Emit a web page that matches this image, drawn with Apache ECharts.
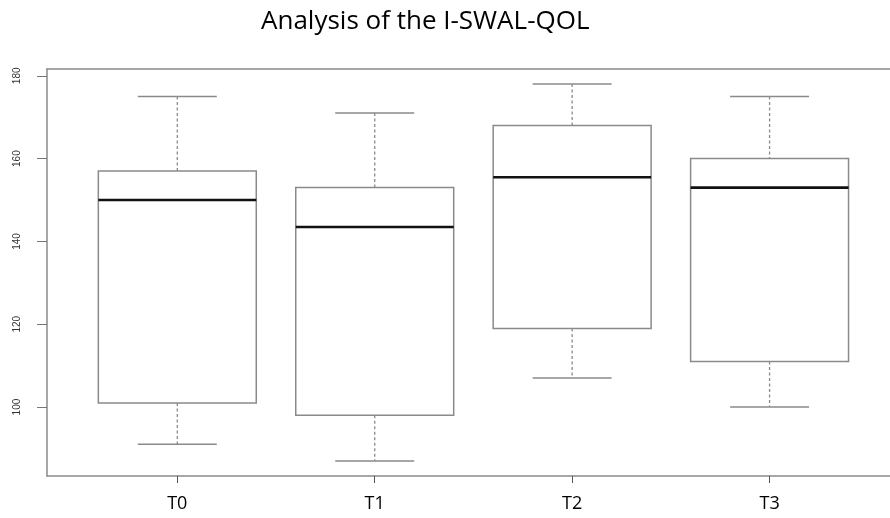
<!DOCTYPE html>
<html>
<head>
<meta charset="utf-8">
<script src="https://cdn.jsdelivr.net/npm/echarts@6/dist/echarts.min.js"></script>
<style>
  html, body { margin: 0; padding: 0; background: #ffffff; }
  #chart { width: 890px; height: 518px; }
</style>
</head>
<body>
<div id="chart"></div>
<script>
// Five-number summaries of the I-SWAL-QOL score at each time point
const categories   = ['T0', 'T1', 'T2', 'T3'];
const whiskerLow   = [91, 87, 107, 100];
const quartile1    = [101, 98, 119, 111];
const medians      = [150, 143.5, 155.5, 153];
const quartile3    = [157, 153, 168, 160];
const whiskerHigh  = [175, 171, 178, 175];
const yTicks       = [100, 120, 140, 160, 180];

// Group positions on the x scale are 1..n, as in a classic boxplot
const positions = categories.map((_, i) => i + 1);
const boxData = positions.map((p, i) =>
  [p, whiskerLow[i], quartile1[i], medians[i], quartile3[i], whiskerHigh[i]]);

// Axis ranges padded by 4% around the data, like base graphics;
// the right-hand side of the plot region is cut off by the page edge
const xLo = 0.5, xHi = categories.length + 0.5;
const xPad = (xHi - xLo) * 0.04;
const xVisibleMax = 4.61;
const yMinData = Math.min(...whiskerLow), yMaxData = Math.max(...whiskerHigh);
const yPad = (yMaxData - yMinData) * 0.04;

const BOX_WEX = 0.8;
const FRAME = '#8a8a8a';

const chart = echarts.init(document.getElementById('chart'), null, { renderer: 'canvas' });

chart.setOption({
  animation: false,
  backgroundColor: '#ffffff',
  title: {
    text: 'Analysis of the I-SWAL-QOL',
    left: 256,
    top: 4,
    textStyle: { fontFamily: 'Open Sans', fontSize: 26, fontWeight: 'normal', color: '#000000' }
  },
  grid: { left: 47, right: 0, top: 69, bottom: 42 },
  xAxis: [{
    type: 'value',
    min: xLo - xPad,
    max: xVisibleMax,
    splitLine: { show: false },
    axisLine: { show: true, lineStyle: { color: FRAME, width: 1.5 } },
    axisTick: { show: true, length: 7, customValues: positions, lineStyle: { color: '#555555' } },
    axisLabel: {
      customValues: positions,
      margin: 19,
      fontFamily: 'Open Sans',
      fontSize: 18,
      color: '#000000',
      formatter: v => categories[Math.round(v) - 1] || ''
    }
  }, {
    // top edge of the plot frame
    type: 'value',
    position: 'top',
    min: xLo - xPad,
    max: xVisibleMax,
    splitLine: { show: false },
    axisLine: { show: true, lineStyle: { color: FRAME, width: 1.5 } },
    axisTick: { show: false },
    axisLabel: { show: false }
  }],
  yAxis: {
    type: 'value',
    min: yMinData - yPad,
    max: yMaxData + yPad,
    splitLine: { show: false },
    axisLine: { show: true, lineStyle: { color: FRAME, width: 1.5 } },
    axisTick: { show: true, length: 10, customValues: yTicks, lineStyle: { color: '#777777' } },
    axisLabel: {
      customValues: yTicks,
      rotate: 90,
      margin: 25,
      fontFamily: 'Liberation Sans',
      fontSize: 10,
      color: '#333333'
    }
  },
  series: [{
    type: 'custom',
    data: boxData,
    encode: { x: 0, y: [1, 2, 3, 4, 5] },
    clip: false,
    renderItem(params, api) {
      const x = api.value(0);
      const pLow = api.coord([x, api.value(1)]);
      const pQ1 = api.coord([x, api.value(2)]);
      const pMed = api.coord([x, api.value(3)]);
      const pQ3 = api.coord([x, api.value(4)]);
      const pHigh = api.coord([x, api.value(5)]);
      const half = api.size([BOX_WEX, 0])[0] / 2;
      const cap = half / 2;
      const cx = pMed[0];
      const grey = '#8a8a8a';
      const dashed = { stroke: grey, lineWidth: 1.3, lineDash: [3, 2.5] };
      const solid = { stroke: grey, lineWidth: 1.5 };
      return {
        type: 'group',
        children: [
          { type: 'line', shape: { x1: cx, y1: pHigh[1], x2: cx, y2: pQ3[1] }, style: dashed },
          { type: 'line', shape: { x1: cx, y1: pQ1[1], x2: cx, y2: pLow[1] }, style: dashed },
          { type: 'line', shape: { x1: cx - cap, y1: pHigh[1], x2: cx + cap, y2: pHigh[1] }, style: solid },
          { type: 'line', shape: { x1: cx - cap, y1: pLow[1], x2: cx + cap, y2: pLow[1] }, style: solid },
          { type: 'rect', shape: { x: cx - half, y: pQ3[1], width: half * 2, height: pQ1[1] - pQ3[1] },
            style: { fill: '#ffffff', stroke: grey, lineWidth: 1.5 } },
          { type: 'line', shape: { x1: cx - half, y1: pMed[1], x2: cx + half, y2: pMed[1] },
            style: { stroke: '#111111', lineWidth: 2.6 } }
        ]
      };
    }
  }]
});
</script>
</body>
</html>
